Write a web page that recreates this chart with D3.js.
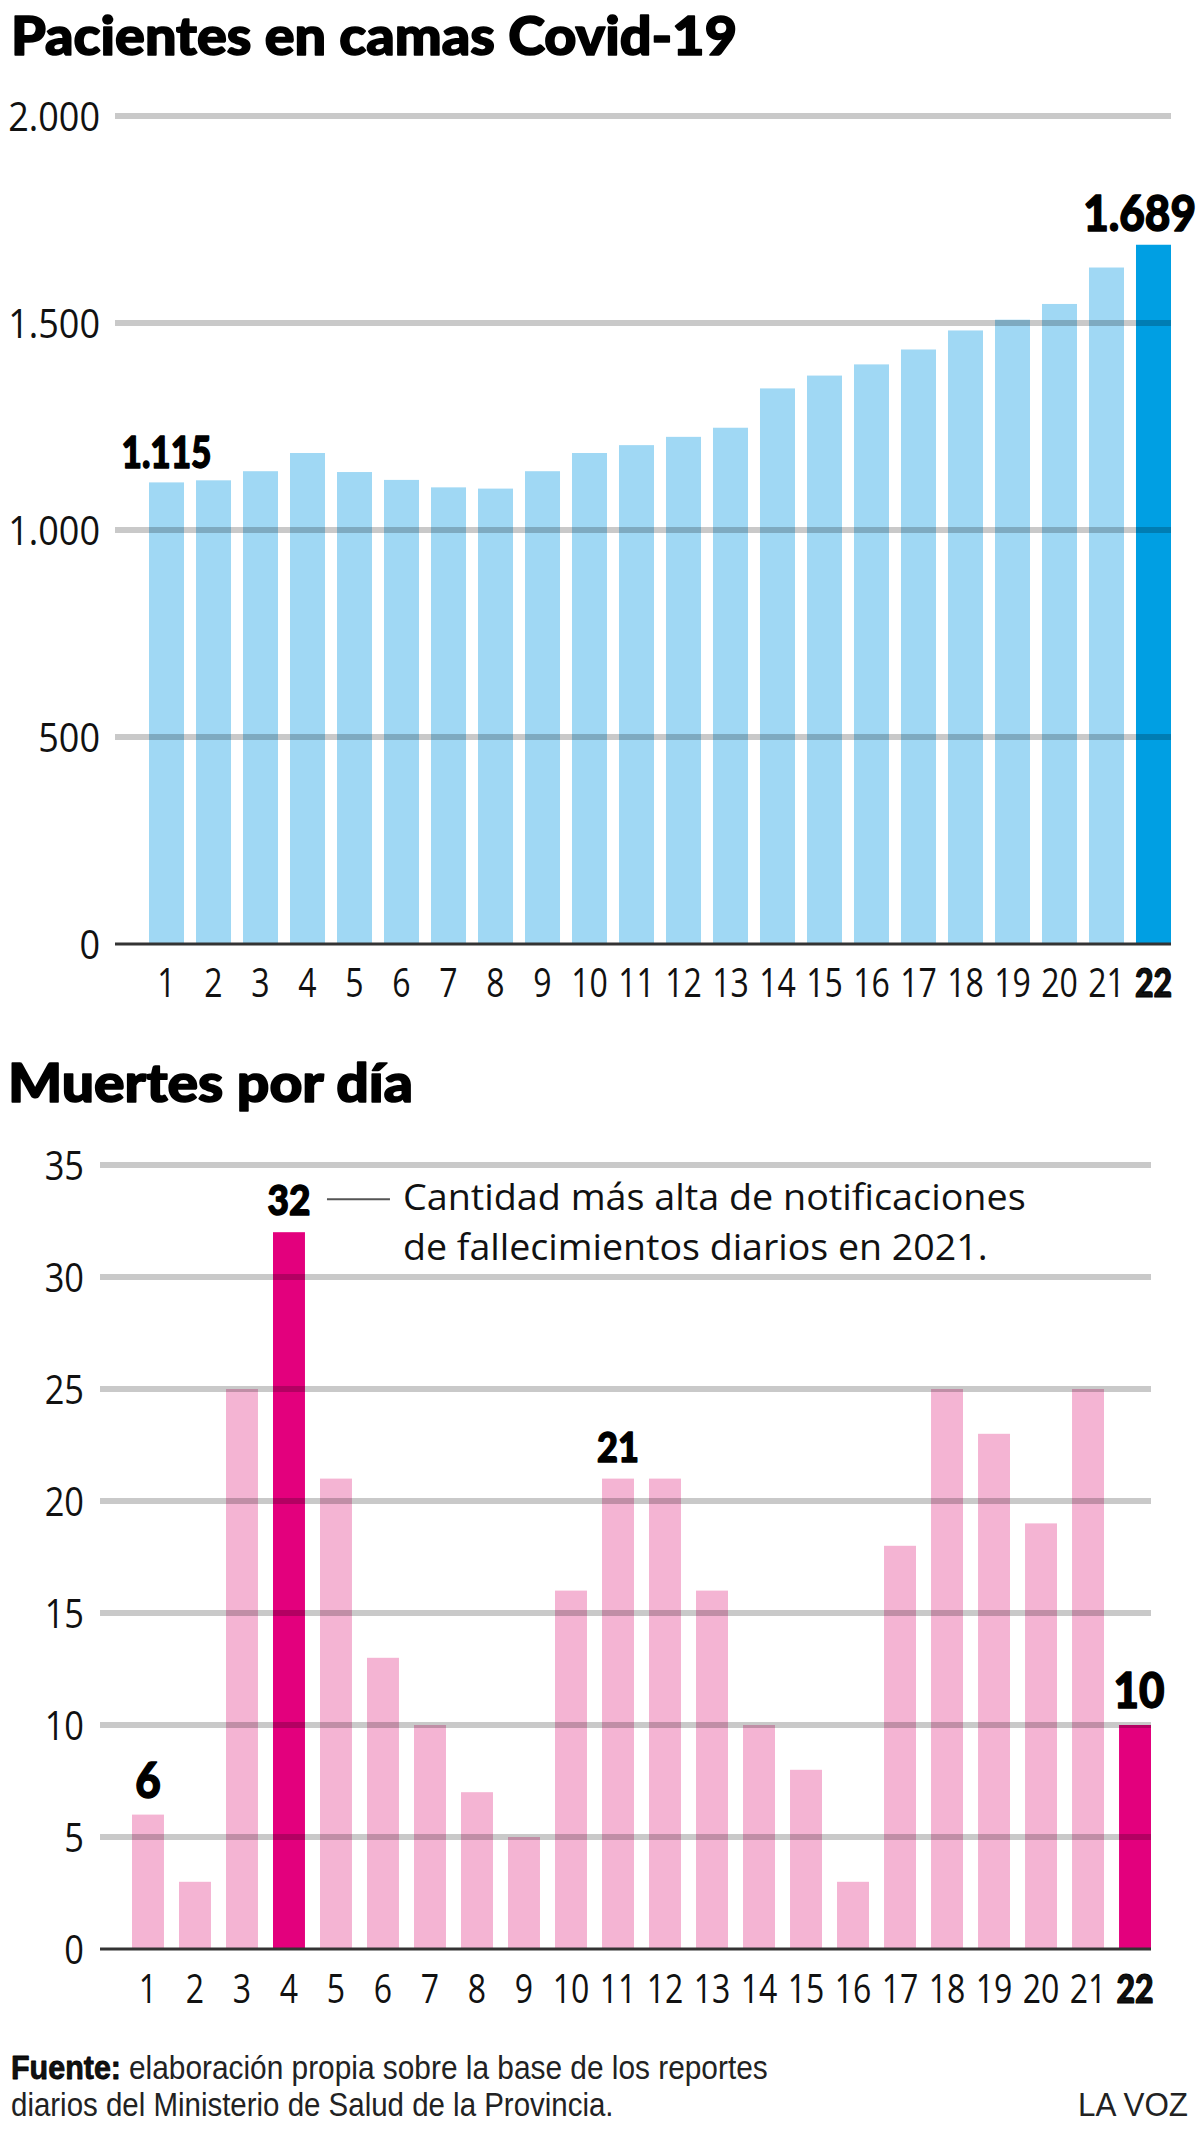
<!DOCTYPE html>
<html>
<head>
<meta charset="utf-8">
<script src="https://cdn.jsdelivr.net/npm/d3@7/dist/d3.min.js"></script>
<style>
  html, body { margin: 0; padding: 0; background: #fff; }
  svg { display: block; }
</style>
</head>
<body>
<svg id="chart" width="1200" height="2140"></svg>
<script>
// ---------------- DATA ----------------
const days = ["1","2","3","4","5","6","7","8","9","10","11","12","13","14","15","16","17","18","19","20","21","22"];
const camas = [1115, 1120, 1142, 1186, 1140, 1121, 1103, 1100, 1142, 1186, 1205, 1225, 1247, 1342, 1373, 1400, 1436, 1482, 1508, 1546, 1634, 1689];
const muertes = [6, 3, 25, 32, 21, 13, 10, 7, 5, 16, 21, 21, 16, 10, 8, 3, 18, 25, 23, 19, 25, 10];
const camasTicks = [0, 500, 1000, 1500, 2000];
const muertesTicks = [0, 5, 10, 15, 20, 25, 30, 35];
const camasHighlight = ["22"];
const camasLabeled = ["1", "22"];
const muertesHighlight = ["4", "22"];
const muertesLabeled = ["1", "4", "11", "22"];

const title1 = "Pacientes en camas Covid-19";
const title2 = "Muertes por día";
const noteLines = ["Cantidad más alta de notificaciones", "de fallecimientos diarios en 2021."];
const sourceBold = "Fuente:";
const sourceLines = ["elaboración propia sobre la base de los reportes", "diarios del Ministerio de Salud de la Provincia."];
const brand = "LA VOZ";

// ---------------- HELPERS ----------------
const locale = d3.formatLocale({decimal: ",", thousands: ".", grouping: [3], currency: ["$", ""]});
const fmt = locale.format(",d");
const svg = d3.select("#chart");
const BOLD = "Lato, 'Roboto', 'DejaVu Sans', sans-serif";
const REG = "'Open Sans', 'Noto Sans', 'DejaVu Sans', sans-serif";
const FOOT = "'Liberation Sans', Arial, 'DejaVu Sans', sans-serif";

function fitWidth(sel, target) {
  sel.each(function() {
    const t = d3.select(this);
    const w = this.getBBox().width;
    if (!w) return;
    const s = target / w;
    const x0 = +t.attr("x") || 0;
    t.attr("transform", `translate(${x0},0) scale(${s},1) translate(${-x0},0)`);
  });
}
function condense(sel, f) {
  sel.each(function() {
    const t = d3.select(this);
    const x0 = +t.attr("x") || 0;
    t.attr("transform", `translate(${x0},0) scale(${f},1) translate(${-x0},0)`);
  });
}
function heavy(sel, w) {
  sel.attr("stroke", "#000").attr("stroke-width", w).attr("stroke-linejoin", "round");
}

// ---------------- CHART 1 ----------------
{
  const x = d3.scaleBand().domain(days).range([149, 1171]).paddingInner(0.255).paddingOuter(0);
  const y = d3.scaleLinear().domain([0, 2000]).range([944, 116]);
  const gridX0 = 115, gridX1 = x.range()[1];

  const t = svg.append("text").attr("x", 11).attr("y", 55)
    .attr("font-family", BOLD).attr("font-weight", 900).attr("font-size", 54)
    .attr("fill", "#000").text(title1);
  heavy(t, 1.6);
  fitWidth(t, 726);

  const g = svg.append("g");
  g.selectAll("rect.bar").data(camas).join("rect")
    .attr("class", "bar")
    .attr("x", (d, i) => x(days[i]))
    .attr("width", x.bandwidth())
    .attr("y", d => y(d))
    .attr("height", d => y(0) - y(d))
    .attr("fill", (d, i) => camasHighlight.includes(days[i]) ? "#009fe3" : "#a0d8f4");

  g.selectAll("line.grid").data(camasTicks.filter(v => v > 0)).join("line")
    .attr("class", "grid")
    .attr("x1", gridX0).attr("x2", gridX1)
    .attr("y1", d => y(d)).attr("y2", d => y(d))
    .attr("stroke", "#000").attr("stroke-opacity", 0.21).attr("stroke-width", 6);
  g.append("line").attr("x1", gridX0).attr("x2", gridX1).attr("y1", y(0)).attr("y2", y(0))
    .attr("stroke", "#333").attr("stroke-width", 3);

  const yAxis = d3.axisLeft(y).tickValues(camasTicks).tickFormat(fmt).tickSize(0).tickPadding(0);
  const ya = svg.append("g").attr("transform", "translate(100,0)").call(yAxis);
  ya.select(".domain").remove();
  ya.selectAll("text").attr("font-family", REG).attr("font-size", 40).attr("fill", "#111").attr("dy", "0.36em");
  ya.selectAll(".tick text").each(function() { condense(d3.select(this), 0.9); });

  const xAxis = d3.axisBottom(x).tickSize(0).tickPadding(0);
  const xa = svg.append("g").attr("transform", `translate(0,${y(0)})`).call(xAxis);
  xa.select(".domain").remove();
  xa.selectAll("text").attr("font-family", d => camasHighlight.includes(d) ? BOLD : REG)
    .attr("font-weight", d => camasHighlight.includes(d) ? 900 : 400)
    .attr("font-size", 40).attr("fill", "#111").attr("dy", 0).attr("y", 53);
  xa.selectAll(".tick text").each(function(d) {
    const s = d3.select(this);
    if (camasHighlight.includes(d)) heavy(s, 1.2);
    condense(s, 0.8);
  });

  camasLabeled.forEach((day) => {
    const i = days.indexOf(day);
    const last = i === days.length - 1;
    const lt = svg.append("text")
      .attr("x", last ? x(day) + x.bandwidth() + 25 : x(day) + x.bandwidth() / 2)
      .attr("y", y(camas[i]) - 14)
      .attr("text-anchor", last ? "end" : "middle")
      .attr("font-family", BOLD).attr("font-weight", 900)
      .attr("font-size", last ? 49 : 44).attr("fill", "#000")
      .text(fmt(camas[i]));
    heavy(lt, 1.4);
    condense(lt, last ? 0.9 : 0.8);
  });
}

// ---------------- CHART 2 ----------------
{
  const x = d3.scaleBand().domain(days).range([132, 1151]).paddingInner(0.32).paddingOuter(0);
  const y = d3.scaleLinear().domain([0, 35]).range([1949, 1165]);
  const gridX0 = 100, gridX1 = x.range()[1];

  const t = svg.append("text").attr("x", 8).attr("y", 1102)
    .attr("font-family", BOLD).attr("font-weight", 900).attr("font-size", 54)
    .attr("fill", "#000").text(title2);
  heavy(t, 1.6);
  fitWidth(t, 405);

  const g = svg.append("g");
  g.selectAll("rect.bar").data(muertes).join("rect")
    .attr("class", "bar")
    .attr("x", (d, i) => x(days[i]))
    .attr("width", x.bandwidth())
    .attr("y", d => y(d))
    .attr("height", d => y(0) - y(d))
    .attr("fill", (d, i) => muertesHighlight.includes(days[i]) ? "#e3007d" : "#f4b4d3");

  g.selectAll("line.grid").data(muertesTicks.filter(v => v > 0)).join("line")
    .attr("class", "grid")
    .attr("x1", gridX0).attr("x2", gridX1)
    .attr("y1", d => y(d)).attr("y2", d => y(d))
    .attr("stroke", "#000").attr("stroke-opacity", 0.21).attr("stroke-width", 6);
  g.append("line").attr("x1", gridX0).attr("x2", gridX1).attr("y1", y(0)).attr("y2", y(0))
    .attr("stroke", "#333").attr("stroke-width", 3);

  const yAxis = d3.axisLeft(y).tickValues(muertesTicks).tickFormat(fmt).tickSize(0).tickPadding(0);
  const ya = svg.append("g").attr("transform", "translate(84,0)").call(yAxis);
  ya.select(".domain").remove();
  ya.selectAll("text").attr("font-family", REG).attr("font-size", 40).attr("fill", "#111").attr("dy", "0.36em");
  ya.selectAll(".tick text").each(function() { condense(d3.select(this), 0.86); });

  const xAxis = d3.axisBottom(x).tickSize(0).tickPadding(0);
  const xa = svg.append("g").attr("transform", `translate(0,${y(0)})`).call(xAxis);
  xa.select(".domain").remove();
  xa.selectAll("text").attr("font-family", d => d === "22" ? BOLD : REG)
    .attr("font-weight", d => d === "22" ? 900 : 400)
    .attr("font-size", 40).attr("fill", "#111").attr("dy", 0).attr("y", 54);
  xa.selectAll(".tick text").each(function(d) {
    const s = d3.select(this);
    if (d === "22") heavy(s, 1.2);
    condense(s, 0.8);
  });

  const sizes = {"1": 50, "4": 42, "11": 41, "22": 50};
  muertesLabeled.forEach((day) => {
    const i = days.indexOf(day);
    const lt = svg.append("text")
      .attr("x", x(day) + x.bandwidth() / 2 + (day === "22" ? 4 : 0))
      .attr("y", y(muertes[i]) - 17)
      .attr("text-anchor", "middle")
      .attr("font-family", BOLD).attr("font-weight", 900)
      .attr("font-size", sizes[day]).attr("fill", "#000")
      .text(fmt(muertes[i]));
    heavy(lt, 1.4);
    condense(lt, 0.88);
  });

  const peak = "4";
  const pi = days.indexOf(peak);
  const lx = x(peak) + x.bandwidth() + 22;
  const ly = y(muertes[pi]) - 33;
  svg.append("line").attr("x1", lx).attr("x2", lx + 63).attr("y1", ly).attr("y2", ly)
    .attr("stroke", "#555").attr("stroke-width", 2);
  const noteW = [623, 585];
  noteLines.forEach((s, k) => {
    const nt = svg.append("text").attr("x", lx + 76).attr("y", ly + 11 + k * 50)
      .attr("font-family", REG).attr("font-size", 36).attr("fill", "#111").text(s);
    fitWidth(nt, noteW[k]);
  });
}

// ---------------- FOOTER ----------------
{
  const fb = svg.append("text").attr("x", 11).attr("y", 2079)
    .attr("font-family", FOOT).attr("font-weight", 700).attr("font-size", 33).attr("fill", "#111").text(sourceBold);
  heavy(fb, 0.8);
  fitWidth(fb, 110);
  const f1 = svg.append("text").attr("x", 129).attr("y", 2079)
    .attr("font-family", FOOT).attr("font-size", 33).attr("fill", "#222").text(sourceLines[0]);
  fitWidth(f1, 639);
  const f2 = svg.append("text").attr("x", 11).attr("y", 2116)
    .attr("font-family", FOOT).attr("font-size", 33).attr("fill", "#222").text(sourceLines[1]);
  fitWidth(f2, 603);
  const b = svg.append("text").attr("x", 1188).attr("y", 2116).attr("text-anchor", "end")
    .attr("font-family", FOOT).attr("font-size", 33).attr("fill", "#222").text(brand);
  fitWidth(b, 110);
}
</script>
</body>
</html>
